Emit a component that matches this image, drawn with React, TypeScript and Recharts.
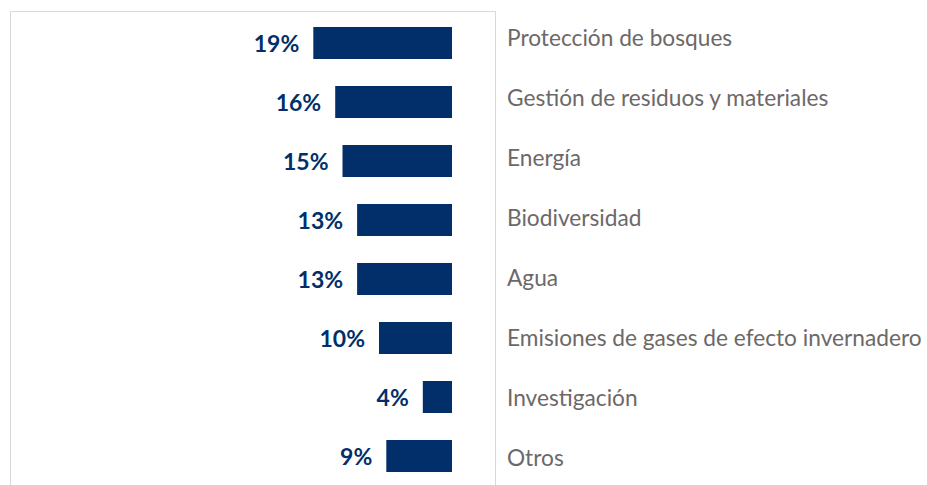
import React from 'react'
import { Bar, BarChart, LabelList, XAxis, YAxis } from 'recharts'

const categories = [
  'Protección de bosques',
  'Gestión de residuos y materiales',
  'Energía',
  'Biodiversidad',
  'Agua',
  'Emisiones de gases de efecto invernadero',
  'Investigación',
  'Otros'
]
const shares = [19, 16, 15, 13, 13, 10, 4, 9]

const data = categories.map((name, i) => ({ name, value: shares[i] }))

const NAVY = '#022f6a'

const ValueLabel = (props: any) => {
  const { x, y, width, height, value } = props
  const left = Math.min(x, x + width)
  return (
    <text
      x={left - 14}
      y={y + height / 2}
      textAnchor="end"
      dominantBaseline="central"
      fill={NAVY}
      fontSize={23}
      fontWeight={700}
      fontFamily="Lato"
    >
      {`${value}%`}
    </text>
  )
}

// labels on the right sit on a slightly wider pitch than the bars
const CategoryTick = (props: any) => {
  const { y, payload, index } = props
  return (
    <text
      x={507}
      y={y + (index - 4) * 1.1 - 1}
      textAnchor="start"
      dominantBaseline="central"
      fill="#6d6868"
      fontSize={22.7}
      fontFamily="Lato"
    >
      {payload.value}
    </text>
  )
}

export default function App() {
  return (
    <div style={{ position: 'absolute', left: 0, top: 0, width: 927, height: 485, background: '#fff' }}>
      <div
        style={{
          position: 'absolute',
          left: 10,
          top: 11,
          width: 484,
          height: 474,
          borderTop: '1px solid #d9d9d9',
          borderLeft: '1px solid #d9d9d9',
          borderRight: '1px solid #d9d9d9'
        }}
      />
      <div style={{ position: 'absolute', left: 0, top: 0 }}>
        <BarChart
          width={927}
          height={485}
          data={data}
          layout="vertical"
          margin={{ top: 13, right: 0, left: 14, bottom: 0 }}
          barCategoryGap={27}
        >
          <XAxis type="number" domain={[0, 60]} reversed hide />
          <YAxis
            type="category"
            dataKey="name"
            orientation="right"
            width={475}
            axisLine={false}
            tickLine={false}
            tick={<CategoryTick />}
            interval={0}
          />
          <Bar dataKey="value" fill={NAVY} barSize={32} isAnimationActive={false}>
            <LabelList dataKey="value" content={<ValueLabel />} />
          </Bar>
        </BarChart>
      </div>
    </div>
  )
}
